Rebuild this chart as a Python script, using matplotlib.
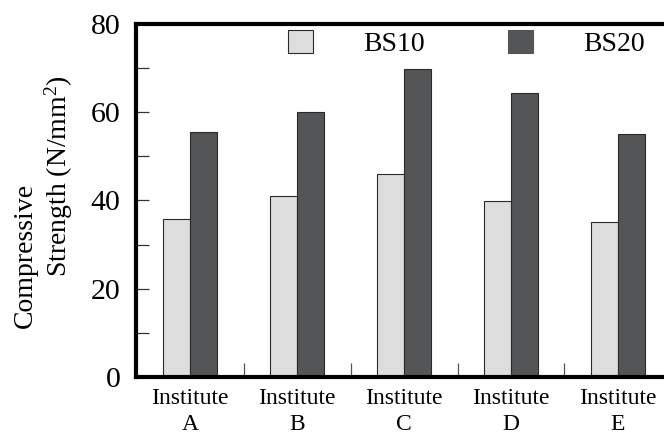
import matplotlib
matplotlib.use("Agg")
import matplotlib.pyplot as plt
import numpy as np
from matplotlib.patches import Patch
from matplotlib.ticker import FixedLocator

plt.rcParams['font.family'] = ['Liberation Serif', 'DejaVu Serif']
plt.rcParams['mathtext.fontset'] = 'custom'
plt.rcParams['mathtext.rm'] = 'Liberation Serif'
plt.rcParams['mathtext.it'] = 'Liberation Serif:italic'

categories = ["Institute\nA", "Institute\nB", "Institute\nC", "Institute\nD", "Institute\nE"]
series_names = ["BS10", "BS20"]
bs10 = [35.8, 41.1, 45.9, 39.8, 35.1]
bs20 = [55.5, 60.1, 69.9, 64.3, 55.0]
yticks_major = [0, 20, 40, 60, 80]
yticks_minor = [10, 30, 50, 70]

W, H = 664, 437
fig = plt.figure(figsize=(W / 100, H / 100), dpi=100)
ax = fig.add_axes([136 / W, (H - 377) / H, (W - 136) / W, (377 - 24) / H])

x = np.arange(len(categories))
bw = 0.25
c10, c20 = '#dcdddc', '#545557'
ax.bar(x - bw / 2, bs10, width=bw, color=c10, edgecolor='#2a2a2a', linewidth=0.8)
ax.bar(x + bw / 2, bs20, width=bw, color=c20, edgecolor='#2a2a2a', linewidth=0.8)

ax.set_xlim(-0.505, 4.43)
ax.set_ylim(0, 80)

for s in ['left', 'top', 'bottom']:
    ax.spines[s].set_linewidth(3)
ax.spines['right'].set_visible(False)

ax.set_yticks(yticks_major)
ax.set_yticklabels([str(v) for v in yticks_major], fontsize=21.5)
ax.yaxis.set_minor_locator(FixedLocator(yticks_minor))
ax.tick_params(axis='y', which='both', direction='in', length=9, width=0.9, pad=11, color='#333333')

ax.set_xticks(x)
ax.set_xticklabels(categories, fontsize=17, linespacing=1.3)
ax.xaxis.set_minor_locator(FixedLocator(x[:-1] + 0.5))
ax.tick_params(axis='x', which='major', length=0, pad=8)
ax.tick_params(axis='x', which='minor', direction='in', length=10, width=0.9, color='#555555')

handles = [Patch(facecolor=c10, edgecolor='#2a2a2a', linewidth=0.8),
           Patch(facecolor=c20, edgecolor=c20, linewidth=0.8)]
ax.legend(handles, series_names, loc='upper left', bbox_to_anchor=(288 / W, (H - 30) / H),
          bbox_transform=fig.transFigure, ncol=2, frameon=False, fontsize=20,
          handlelength=0.9, handleheight=0.9, handletextpad=1.8, columnspacing=3.0,
          borderpad=0, borderaxespad=0)

fig.text(25 / W, (H - 328) / H, "Compressive", rotation=90, ha='center', va='bottom', fontsize=20)
fig.text(59 / W, (H - 277) / H, "Strength (N/mm$^{2}$)", rotation=90, ha='center', va='bottom', fontsize=20)

fig.savefig("out.png", dpi=100)
